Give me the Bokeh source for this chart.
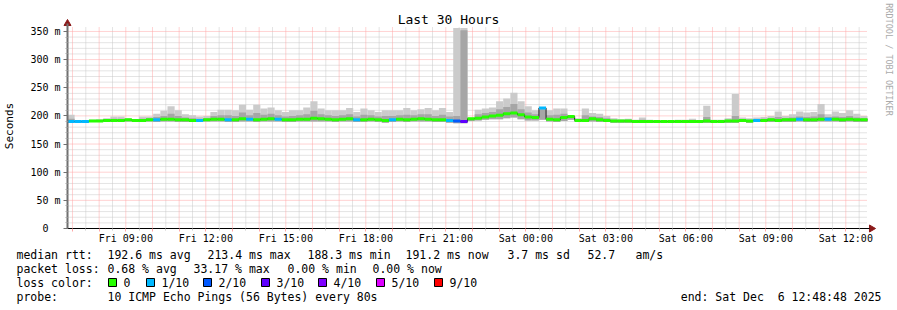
import math
from bokeh.plotting import figure
from bokeh.models import FixedTicker, Label, BoxAnnotation, Range1d
from bokeh.embed import file_html
from bokeh.resources import INLINE

# ---------------- data ----------------
START_H = 6 + 48 / 60 + 48 / 3600      # Fri 06:48:48, hours from Fri 00:00
SPAN_H = 30.0
N_BARS = 112
Y_TOP = 357

median_ms = [190,190,190,191,191,192,192,192,193,192,
             192,193,193,194,194,193,193,192,192,193,
             194,194,193,193,195,194,193,194,195,194,
             193,193,194,194,196,195,194,193,194,195,
             193,193,194,193,192,193,194,193,194,195,
             194,193,193,192,191,190,195,196,198,200,
             201,204,205,202,198,197,214,194,193,197,
             199,192,192,195,193,192,191,191,191,190,
             190,190,190,190,190,190,190,190,190,191,
             190,190,191,191,192,191,192,192,193,192,
             193,193,194,193,193,194,194,194,193,194,
             193,193]

smoke_max_ms = [202,192,192,193,194,196,199,199,196,194,
                199,199,204,209,217,210,203,201,199,200,
                207,211,211,210,220,211,220,213,215,210,
                207,210,210,215,226,213,210,210,210,214,
                207,213,210,207,210,210,210,214,210,212,
                214,210,214,207,356,356,197,211,213,215,
                226,231,241,226,217,210,215,210,213,213,
                201,196,213,205,204,200,196,194,195,193,
                197,193,192,192,192,193,193,195,192,218,
                193,193,196,239,197,196,197,198,200,208,
                200,203,208,206,207,221,203,208,205,210,
                204,200]

smoke_mid_ms = [195,191,191,192,192,194,195,195,194,193,
                195,196,198,200,204,200,197,196,195,196,
                200,201,201,200,206,201,205,202,204,201,
                199,200,201,203,209,203,201,200,201,203,
                199,202,201,199,200,200,201,202,201,203,
                203,200,202,199,200,352,196,203,205,207,
                212,216,221,212,206,203,212,201,202,204,
                200,194,201,199,198,196,193,192,193,191,
                193,191,191,191,191,191,191,192,191,198,
                191,191,193,200,194,193,194,195,196,198,
                196,197,199,198,199,203,198,199,198,200,
                197,196]

smoke_min_ms = [188,188,188,189,189,189,189,189,190,189,
                189,190,189,190,190,189,189,189,189,190,
                190,190,189,189,190,190,189,190,190,190,
                189,189,190,190,190,190,190,189,190,190,
                189,189,190,189,188,189,190,189,190,190,
                190,189,189,188,187,187,191,192,193,194,
                194,196,197,194,192,192,193,190,189,191,
                193,189,189,190,189,189,188,188,188,188,
                188,188,188,188,188,188,188,188,188,188,
                188,188,188,188,189,188,189,189,189,189,
                189,189,190,189,189,190,190,190,189,190,
                189,189]

loss_count = [1,1,1,0,0,0,0,0,0,0,
              0,0,1,0,0,0,0,0,1,0,
              0,0,1,0,0,1,0,0,0,1,
              0,0,0,0,0,0,0,0,0,0,
              1,0,0,0,0,1,0,0,0,0,
              0,0,0,1,2,3,0,0,0,0,
              0,0,0,0,0,0,1,0,0,0,
              0,0,0,0,0,0,0,0,0,0,
              0,0,0,0,0,0,0,0,0,0,
              0,0,0,0,0,0,1,0,0,0,
              0,0,1,0,0,0,1,0,0,0,
              0,0]

loss_keys = [0, 1, 2, 3, 4, 5, 9]
loss_labels = ["0", "1/10", "2/10", "3/10", "4/10", "5/10", "9/10"]
loss_colors = ["#26ff00", "#00b8ff", "#0059ff", "#5e00ff", "#7e00ff", "#dd00ff", "#ff0000"]

y_ticks = [0, 50, 100, 150, 200, 250, 300, 350]
y_tick_labels = ["0\u00a0\u00a0", "50 m", "100 m", "150 m", "200 m", "250 m", "300 m", "350 m"]
x_label_hours = [9, 12, 15, 18, 21, 24, 27, 30, 33, 36]
x_tick_labels = ["Fri 09:00", "Fri 12:00", "Fri 15:00", "Fri 18:00", "Fri 21:00",
                 "Sat 00:00", "Sat 03:00", "Sat 06:00", "Sat 09:00", "Sat 12:00"]

stats_rtt = ["192.6 ms avg", "213.4 ms max", "188.3 ms min", "191.2 ms now", "3.7 ms sd", "52.7", "am/s"]
stats_loss = ["0.68 % avg", "33.17 % max", "0.00 % min", "0.00 % now"]
probe_text = "10 ICMP Echo Pings (56 Bytes) every 80s"
end_text = "end: Sat Dec \u00a06 12:48:48 2025"

# ---------------- layout (canvas pixels) ----------------
W, H = 897, 310
FL, FR, FT, FB = 67, 867, 27, 228          # data area inside the canvas
FONT = "DejaVu Sans Mono"

END_H = START_H + SPAN_H
hpp = SPAN_H / (FR - FL)                    # hours per pixel
mpp = Y_TOP / (FB - FT)                     # ms per pixel
step = SPAN_H / N_BARS
lefts = [START_H + i * step for i in range(N_BARS)]
rights = [START_H + (i + 1) * step for i in range(N_BARS)]
color_of = dict(zip(loss_keys, loss_colors))
med_colors = [color_of[c] for c in loss_count]

p = figure(width=W, height=H,
           x_range=Range1d(START_H - FL * hpp, START_H + (W - FL) * hpp),
           y_range=Range1d(-(H - FB) * mpp, Y_TOP + FT * mpp),
           output_backend="svg", toolbar_location=None, min_border=0,
           background_fill_color="white", border_fill_color="white", outline_line_color=None)
p.title.visible = False
p.xgrid.visible = False
p.ygrid.visible = False

# grid (dotted), limited to the data area
hours = list(range(7, 37))
half_hours = [h + 0.5 for h in range(7, 37)]
y_minor = [v for v in range(10, Y_TOP, 10) if v % 50]
y_major = [v for v in y_ticks if v > 0]
p.segment(x0=half_hours, y0=0, x1=half_hours, y1=Y_TOP, line_color="#c8c8c8", line_width=1, line_dash="1 1")
p.segment(x0=START_H, y0=y_minor, x1=END_H, y1=y_minor, line_color="#c8c8c8", line_width=1, line_dash="1 1")
p.segment(x0=hours, y0=0, x1=hours, y1=Y_TOP, line_color="#ffa6a6", line_width=1, line_dash="1 1")
p.segment(x0=START_H, y0=y_major, x1=END_H, y1=y_major, line_color="#ffa6a6", line_width=1, line_dash="1 1")

# smoke
p.quad(left=lefts, right=rights, bottom=smoke_min_ms, top=smoke_max_ms,
       fill_color="#cbcbcb", line_color=None)
p.quad(left=lefts, right=rights, bottom=smoke_min_ms, top=smoke_mid_ms,
       fill_color="#a6a6a6", line_color=None)
# median line
p.step(x=lefts + [END_H], y=median_ms + [median_ms[-1]], mode="after",
       line_color="#202020", line_width=1)
p.segment(x0=lefts, y0=median_ms, x1=rights, y1=median_ms, line_color=med_colors, line_width=3)

# axes drawn at fixed data locations
xa, ya = p.xaxis[0], p.yaxis[0]
xa.fixed_location = 0
ya.fixed_location = START_H
xa.bounds = (START_H, END_H + 2 * hpp)
ya.bounds = (0, Y_TOP + 4 * mpp)
xa.ticker = FixedTicker(ticks=hours, minor_ticks=half_hours)
overrides = {h: "" for h in hours}
overrides.update(dict(zip(x_label_hours, x_tick_labels)))
xa.major_label_overrides = overrides
ya.ticker = FixedTicker(ticks=y_ticks, minor_ticks=y_minor)
ya.major_label_overrides = dict(zip(y_ticks, y_tick_labels))
ya.axis_label = "Seconds"

for ax in (xa, ya):
    ax.major_label_text_font = FONT
    ax.major_label_text_font_size = "10px"
    ax.major_label_text_color = "black"
    ax.axis_label_text_font = FONT
    ax.axis_label_text_font_size = "11px"
    ax.axis_label_text_font_style = "normal"
    ax.axis_label_text_color = "black"

xa.axis_line_color = "black"
xa.axis_line_width = 1
xa.major_tick_line_color = "#ffa6a6"
xa.major_tick_out = 3
xa.major_tick_in = 0
xa.minor_tick_line_color = "#c8c8c8"
xa.minor_tick_out = 2
xa.minor_tick_in = 0
xa.major_label_standoff = 1

ya.axis_line_color = "#707070"
ya.axis_line_width = 2
ya.major_tick_line_color = "#707070"
ya.major_tick_out = 4
ya.major_tick_in = 0
ya.minor_tick_line_color = "#aaaaaa"
ya.minor_tick_out = 2
ya.minor_tick_in = 0
ya.major_label_standoff = 3
ya.axis_label_standoff = 11

# arrow heads at the axis ends
p.scatter(x=[START_H], y=[Y_TOP + 4 * mpp], marker="triangle", size=7,
          fill_color="#8b1a1a", line_color="#8b1a1a")
p.scatter(x=[END_H + 4 * hpp], y=[0], marker="triangle", size=7, angle=-math.pi / 2,
          fill_color="#8b1a1a", line_color="#8b1a1a")


# ---------------- texts ----------------
def txt(s, cx, cy, size="11.5px", align="left", color="black", angle=0.0):
    p.add_layout(Label(x=cx, y=H - cy, x_units="screen", y_units="screen", text=s,
                       text_font=FONT, text_font_size=size, text_align=align,
                       text_baseline="middle", text_color=color, angle=angle))


txt("Last 30 Hours", 448, 19, size="13px", align="center")
txt("RRDTOOL / TOBI OETIKER", 888, 59, size="8.5px", align="center", color="#aaaaaa", angle=-math.pi / 2)

row_y = [254, 268, 282, 296]
txt("median rtt:", 16, row_y[0])
for s, x in zip(stats_rtt, [107, 207, 307, 405, 507, 587, 635]):
    txt(s, x, row_y[0])
txt("packet loss:", 16, row_y[1])
for s, x in zip(stats_loss, [107, 193, 287, 372]):
    txt(s, x, row_y[1])
txt("loss color:", 16, row_y[2])
for lab, col, x in zip(loss_labels, loss_colors, [108, 146, 203, 261, 318, 376, 434]):
    p.add_layout(BoxAnnotation(left=x, right=x + 8, top=H - (row_y[2] - 4),
                               bottom=H - (row_y[2] + 4),
                               left_units="screen", right_units="screen",
                               top_units="screen", bottom_units="screen",
                               fill_color=col, fill_alpha=1.0, line_color="black",
                               line_width=1, line_alpha=1.0))
    txt(lab, x + 15, row_y[2])
txt("probe:", 16, row_y[3])
txt(probe_text, 107, row_y[3])
txt(end_text, 881, row_y[3], align="right")

open("out.html", "w").write(file_html(p, INLINE))
